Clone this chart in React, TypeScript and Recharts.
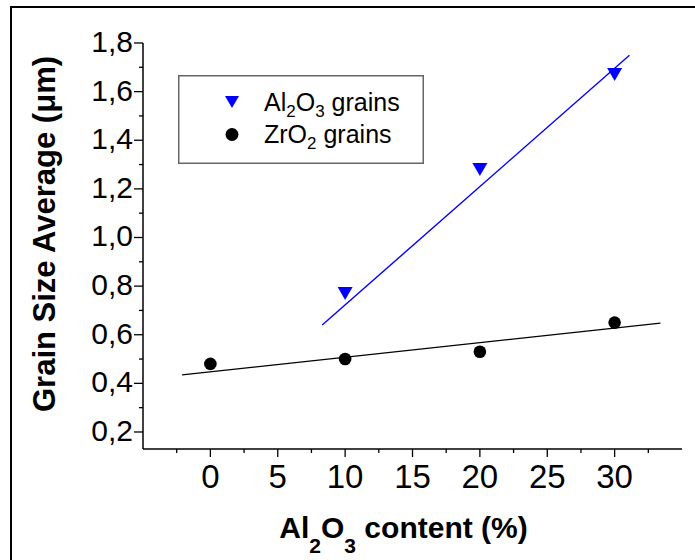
import React from 'react';
import { ComposedChart, Scatter, Line, XAxis, YAxis, Legend, Label } from 'recharts';

// Series data
const aluminaContent = [10, 20, 30];
const aluminaGrain = [0.77, 1.28, 1.67];
const zirconiaContent = [0, 10, 20, 30];
const zirconiaGrain = [0.48, 0.5, 0.53, 0.65];

// Linear-fit line end points
const aluminaFitX = [8.3, 31.1];
const aluminaFitY = [0.64, 1.75];
const zirconiaFitX = [-2.1, 33.4];
const zirconiaFitY = [0.435, 0.648];

// Ticks
const xTicks = [-2.5, 0, 2.5, 5, 7.5, 10, 12.5, 15, 17.5, 20, 22.5, 25, 27.5, 30, 32.5];
const xMajor = [0, 5, 10, 15, 20, 25, 30];
const yTicks = [0.2, 0.3, 0.4, 0.5, 0.6, 0.7, 0.8, 0.9, 1.0, 1.1, 1.2, 1.3, 1.4, 1.5, 1.6, 1.7, 1.8];
const yMajor = [0.2, 0.4, 0.6, 0.8, 1.0, 1.2, 1.4, 1.6, 1.8];

const seriesNames = ['Al2O3 grains', 'ZrO2 grains'];

const toPts = (xs: number[], ys: number[]) => xs.map((x, i) => ({ x, y: ys[i] }));
const aluminaData = toPts(aluminaContent, aluminaGrain);
const zirconiaData = toPts(zirconiaContent, zirconiaGrain);
const aluminaFit = toPts(aluminaFitX, aluminaFitY);
const zirconiaFit = toPts(zirconiaFitX, zirconiaFitY);

const FONT = '"Liberation Sans", Arial, sans-serif';
const isMajor = (v: number, arr: number[]) => arr.some((m) => Math.abs(m - v) < 1e-6);
const fmtY = (v: number) => v.toFixed(1).replace('.', ',');

const BottomTick = (props: any) => {
  const { x, y, payload } = props;
  const v = payload.value;
  const major = isMajor(v, xMajor);
  return (
    <g>
      <line x1={x} x2={x} y1={y} y2={y + (major ? 8 : 4)} stroke="#000" strokeWidth={1.3} />
      {major && (
        <text x={x} y={y + 39} textAnchor="middle" fontSize={33} fontFamily={FONT} fill="#000">
          {v}
        </text>
      )}
    </g>
  );
};

const TopTick = (props: any) => {
  const { x, y, payload } = props;
  const major = isMajor(payload.value, xMajor);
  return <line x1={x} x2={x} y1={y} y2={y - (major ? 9 : 4)} stroke="#000" strokeWidth={1.3} />;
};

const LeftTick = (props: any) => {
  const { x, y, payload } = props;
  const v = payload.value;
  const major = isMajor(v, yMajor);
  return (
    <g>
      <line x1={x} x2={x - (major ? 9 : 4)} y1={y} y2={y} stroke="#000" strokeWidth={1.3} />
      {major && (
        <text x={x - 10} y={y + 9} textAnchor="end" fontSize={30} fontFamily={FONT} fill="#000">
          {fmtY(v)}
        </text>
      )}
    </g>
  );
};

const RightTick = (props: any) => {
  const { x, y } = props;
  return <line x1={x} x2={x + 2} y1={y} y2={y} stroke="#000" strokeWidth={1.3} />;
};

const TriangleDown = (props: any) => {
  const { cx, cy } = props;
  if (cx == null || cy == null) return <g />;
  const w = 7.5;
  const h = 13;
  return (
    <polygon
      points={`${cx - w},${cy - h / 2} ${cx + w},${cy - h / 2} ${cx},${cy + h / 2}`}
      fill="#0000ff"
    />
  );
};

const Dot = (props: any) => {
  const { cx, cy } = props;
  if (cx == null || cy == null) return <g />;
  return <circle cx={cx} cy={cy} r={6.3} fill="#000" />;
};

const LegendBox = () => (
  <svg width={246} height={89} style={{ display: 'block' }}>
    <rect x={0.75} y={0.75} width={244.5} height={87.5} fill="#fff" stroke="#666" strokeWidth={1.5} />
    <polygon points="47,21 61,21 54,33" fill="#0000ff" />
    <text x={86} y={36} fontSize={25} fontFamily={FONT} fill="#000">
      Al<tspan fontSize={17} dy={6}>2</tspan>
      <tspan dy={-6}>O</tspan>
      <tspan fontSize={17} dy={6}>3</tspan>
      <tspan dy={-6}> grains</tspan>
    </text>
    <circle cx={54} cy={59.5} r={6.5} fill="#000" />
    <text x={86} y={68} fontSize={25} fontFamily={FONT} fill="#000">
      ZrO<tspan fontSize={17} dy={6}>2</tspan>
      <tspan dy={-6}> grains</tspan>
    </text>
  </svg>
);

const XTitle = (props: any) => {
  const vb = props.viewBox || { x: 143, y: 449, width: 538 };
  const cx = vb.x + vb.width / 2 - 9;
  const y = vb.y + 89;
  return (
    <text x={cx} y={y} textAnchor="middle" fontSize={30} fontWeight="bold" fontFamily={FONT} fill="#000">
      Al<tspan fontSize={21} dy={15}>2</tspan>
      <tspan dy={-15}>O</tspan>
      <tspan fontSize={21} dy={15}>3</tspan>
      <tspan dy={-15}> content (%)</tspan>
    </text>
  );
};

const YTitle = (props: any) => {
  const vb = props.viewBox || { x: 13, y: 43, width: 130, height: 406 };
  const x = vb.x + 42;
  const y = vb.y + vb.height / 2 - 12;
  return (
    <g>
      {/* outer figure frame (left and top edges) */}
      <path d="M11,560 L11,7 L700,7" fill="none" stroke="#000" strokeWidth={2} />
      <text
        x={x}
        y={y}
        transform={`rotate(-90, ${x}, ${y})`}
        textAnchor="middle"
        fontSize={31}
        fontWeight="bold"
        fontFamily={FONT}
        fill="#000"
      >
        Grain Size Average (μm)
      </text>
    </g>
  );
};

export default function App() {
  return (
    <div
      style={{
        position: 'absolute',
        left: 0,
        top: 0,
        width: 695,
        height: 560,
        background: '#fff',
        overflow: 'hidden',
      }}
    >
      <ComposedChart
        width={695}
        height={560}
        margin={{ top: 43, right: 13, bottom: 0, left: 13 }}
      >
        <XAxis
          xAxisId="bottom"
          dataKey="x"
          type="number"
          domain={[-5, 35]}
          ticks={xTicks}
          interval={0}
          tickSize={0}
          tickMargin={0}
          tickLine={false}
          tick={<BottomTick />}
          height={111}
          orientation="bottom"
          stroke="#000"
          strokeWidth={1.5}
          allowDataOverflow
        >
          <Label content={<XTitle />} />
        </XAxis>
        <XAxis
          xAxisId="top"
          dataKey="x"
          type="number"
          domain={[-5, 35]}
          ticks={xTicks}
          interval={0}
          tickSize={0}
          tickMargin={0}
          tickLine={false}
          tick={<TopTick />}
          height={0}
          orientation="top"
          stroke="#000"
          strokeWidth={1.5}
          allowDataOverflow
        />
        <YAxis
          yAxisId="left"
          dataKey="y"
          type="number"
          domain={[0.13, 1.8]}
          ticks={yTicks}
          interval={0}
          tickSize={0}
          tickMargin={0}
          tickLine={false}
          tick={<LeftTick />}
          width={130}
          orientation="left"
          stroke="#000"
          strokeWidth={1.5}
          allowDataOverflow
        >
          <Label content={<YTitle />} />
        </YAxis>
        <YAxis
          yAxisId="right"
          dataKey="y"
          type="number"
          domain={[0.13, 1.8]}
          ticks={yTicks}
          interval={0}
          tickSize={0}
          tickMargin={0}
          tickLine={false}
          tick={<RightTick />}
          width={0}
          orientation="right"
          stroke="#000"
          strokeWidth={1.5}
          allowDataOverflow
        />
        <Legend
          layout="horizontal"
          verticalAlign="middle"
          align="center"
          wrapperStyle={{ left: 178, top: 75, width: 246, height: 89 }}
          content={() => <LegendBox />}
        />
        <Line
          xAxisId="bottom"
          yAxisId="left"
          data={aluminaFit}
          dataKey="y"
          type="linear"
          stroke="#0000ff"
          strokeWidth={1.4}
          dot={false}
          activeDot={false}
          legendType="none"
          isAnimationActive={false}
        />
        <Line
          xAxisId="bottom"
          yAxisId="left"
          data={zirconiaFit}
          dataKey="y"
          type="linear"
          stroke="#000"
          strokeWidth={1.2}
          dot={false}
          activeDot={false}
          legendType="none"
          isAnimationActive={false}
        />
        <Scatter
          name={seriesNames[0]}
          xAxisId="bottom"
          yAxisId="left"
          data={aluminaData}
          dataKey="y"
          fill="#0000ff"
          shape={<TriangleDown />}
          isAnimationActive={false}
        />
        <Scatter
          name={seriesNames[1]}
          xAxisId="bottom"
          yAxisId="left"
          data={zirconiaData}
          dataKey="y"
          fill="#000"
          shape={<Dot />}
          isAnimationActive={false}
        />
      </ComposedChart>
    </div>
  );
}
